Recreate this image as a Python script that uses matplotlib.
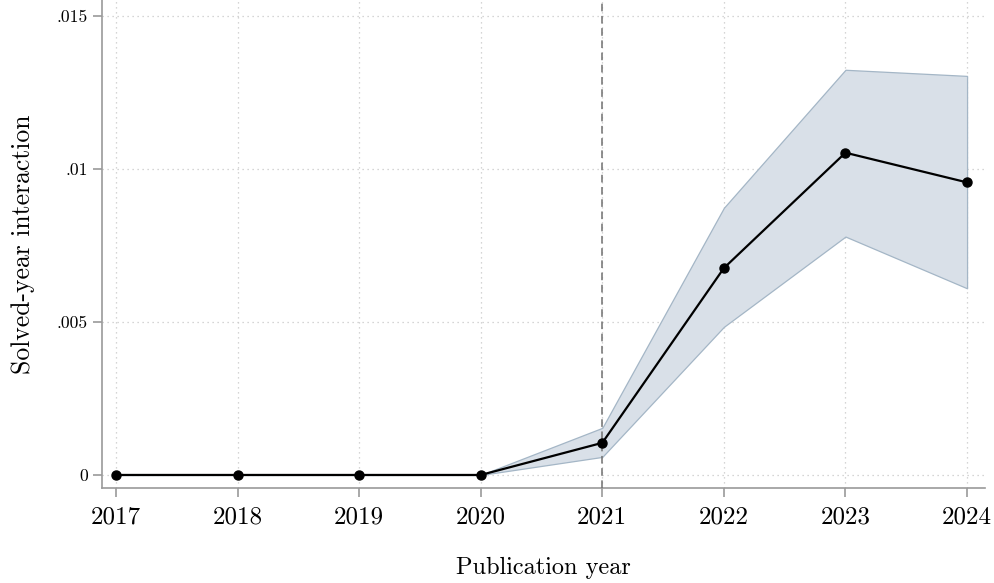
import matplotlib
matplotlib.use("Agg")
import matplotlib.pyplot as plt

plt.rcParams['font.family'] = 'cmr10'
plt.rcParams['axes.unicode_minus'] = False
plt.rcParams['mathtext.fontset'] = 'cm'

years = [2017, 2018, 2019, 2020, 2021, 2022, 2023, 2024]
coef = [0, 0, 0, 0, 0.00105, 0.00676, 0.01053, 0.00956]
ci_low = [0, 0, 0, 0, 0.00059, 0.00484, 0.00779, 0.00610]
ci_high = [0, 0, 0, 0, 0.00154, 0.00873, 0.01324, 0.01304]

ytick_vals = [0, 0.005, 0.01, 0.015]
ytick_labels = ['0', '.005', '.01', '.015']

fig = plt.figure(figsize=(9.95, 5.83), dpi=100)
ax = fig.add_axes([0.1025, 0.163, 0.8875, 0.837])

grey = '#9a9a9a'
ax.fill_between(years, ci_low, ci_high, facecolor='#d9e0e8',
                edgecolor='#a4b6c6', linewidth=0.9, zorder=2)
ax.plot(years, coef, color='black', lw=1.6, marker='o', ms=6.5, zorder=4)
ax.axvline(2021, color='#707070', lw=1.1, ls=(0, (5, 3)), zorder=3)

ax.set_xlim(2016.885, 2024.148)
ax.set_ylim(-0.000425, 0.01552)
ax.set_xticks(years)
ax.set_xticklabels([str(y) for y in years])
ax.set_yticks(ytick_vals)
ax.set_yticklabels(ytick_labels)

ax.grid(True, color='#c8c8c8', ls=(0, (1, 3)), lw=0.9, zorder=1)
ax.set_axisbelow(True)

for s in ['top', 'right']:
    ax.spines[s].set_visible(False)
for s in ['left', 'bottom']:
    ax.spines[s].set_color(grey)
    ax.spines[s].set_linewidth(1.2)

ax.tick_params(axis='both', direction='out', color=grey, length=6.5, width=1.2)
ax.tick_params(axis='x', labelsize=18, pad=7)
ax.tick_params(axis='y', labelsize=12.7, pad=3.5)

ax.set_xlabel('Publication year', fontsize=17.5, labelpad=20)
ax.set_ylabel('Solved-year interaction', fontsize=18.5, labelpad=16)

fig.savefig('out.png', dpi=100)
